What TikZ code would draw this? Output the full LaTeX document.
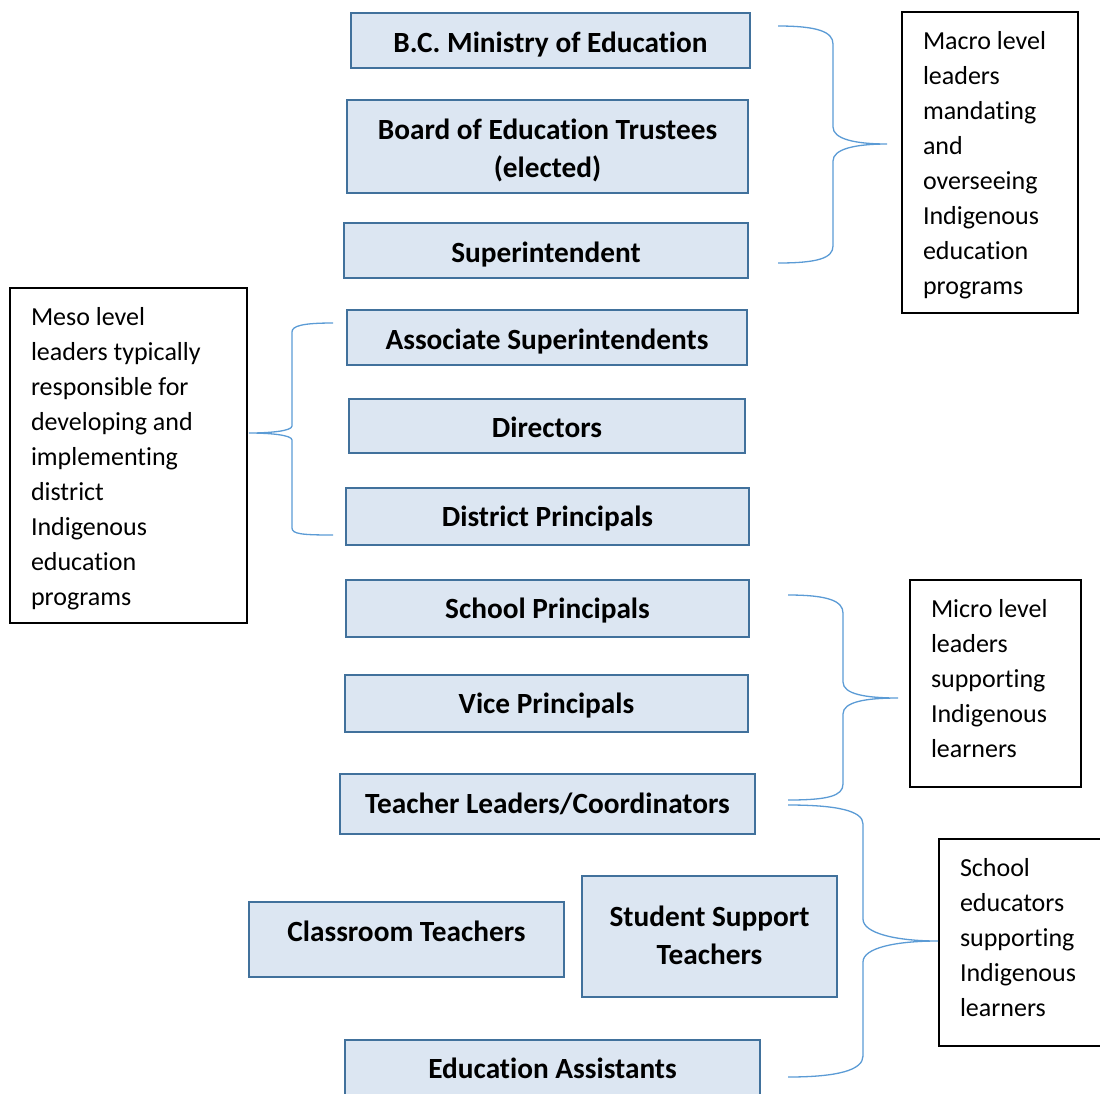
\documentclass[tikz,border=0pt]{standalone}
\usepackage{fontspec}
\setmainfont{Carlito}[Ligatures=NoCommon]
\definecolor{boxfill}{HTML}{DCE6F2}
\definecolor{boxedge}{HTML}{41719C}
\definecolor{bracecol}{HTML}{5B9BD5}
\newcommand{\notelines}[1]{\begin{tabular}[t]{@{}l@{}}#1\end{tabular}}
\begin{document}
\begin{tikzpicture}[x=1pt,y=-1pt,
  lvl/.style={draw=boxedge, fill=boxfill, line width=2.5pt, inner sep=0pt, outer sep=0pt, align=center,
    text height=23.6pt, text depth=0pt,
    font=\fontsize{29.3}{38}\selectfont\bfseries},
  notebox/.style={draw=black, line width=1.8pt, inner sep=0pt, outer sep=0pt},
  notetext/.style={inner sep=0pt, outer sep=0pt, anchor=base west,
    xshift=21pt, yshift=-37pt, font=\fontsize{26}{35}\selectfont},
  brc/.style={draw=bracecol, line width=1.3pt}]
\useasboundingbox (0,0) rectangle (1100,1093);
\clip (0,0) rectangle (1100,1093);

% level boxes
\node[lvl, minimum width=399pt, minimum height=55pt] (mini) at (550.5,40.5) {B.C. Ministry of Education};
\node[lvl, minimum width=401pt, minimum height=93pt, text height=61.6pt] (board) at (547.5,146.5) {Board of Education Trustees\\(elected)};
\node[lvl, minimum width=404pt, minimum height=55pt] (sup) at (546,250.5) {Superintendent};
\node[lvl, minimum width=400pt, minimum height=55pt] (assoc) at (547,337.5) {Associate Superintendents};
\node[lvl, minimum width=396pt, minimum height=54pt, text height=22.6pt] (dir) at (547,426) {Directors};
\node[lvl, minimum width=403pt, minimum height=57pt, text height=19.6pt] (dp) at (547.5,516.5) {District Principals};
\node[lvl, minimum width=403pt, minimum height=57pt, text height=19.6pt] (sp) at (547.5,608.5) {School Principals};
\node[lvl, minimum width=403pt, minimum height=57pt, text height=19.6pt] (vp) at (546.5,703.5) {Vice Principals};
\node[lvl, minimum width=415pt, minimum height=60pt, text height=18.6pt] (tl) at (547.5,804) {Teacher Leaders/Coordinators};
\node[lvl, minimum width=315pt, minimum height=75pt, text height=3.6pt] (ct) at (406.5,939.5) {Classroom Teachers};
\node[lvl, minimum width=255pt, minimum height=121pt, text height=55.6pt] (sst) at (709.5,936.5) {Student Support\\Teachers};
\node[lvl, minimum width=415pt, minimum height=58pt, text height=18.6pt] (ea) at (552.5,1069) {Education Assistants};

% note boxes
\node[notebox, minimum width=176pt, minimum height=301pt] (macro) at (990,162.5) {};
\node[notetext] (macrotxt) at (macro.north west)
  {\notelines{Macro level\\leaders\\mandating\\and\\overseeing\\Indigenous\\education\\programs}};
\node[notebox, minimum width=237pt, minimum height=335pt] (meso) at (128.5,455.5) {};
\node[notetext] (mesotxt) at (meso.north west)
  {\notelines{Meso level\\leaders typically\\responsible for\\developing and\\implementing\\district\\Indigenous\\education\\programs}};
\node[notebox, minimum width=171pt, minimum height=207pt] (micro) at (995.5,683.5) {};
\node[notetext] (microtxt) at (micro.north west)
  {\notelines{Micro level\\leaders\\supporting\\Indigenous\\learners}};
\node[notebox, minimum width=163pt, minimum height=207pt] (school) at (1020.5,942.5) {};
\node[notetext] (schooltxt) at (school.north west)
  {\notelines{School\\educators\\supporting\\Indigenous\\learners}};

% brace end points
\coordinate (maT) at (778,26);
\coordinate (maB) at (778,263);
\coordinate (maP) at (887,144);
\coordinate (meT) at (333,323);
\coordinate (meB) at (333,535);
\coordinate (meP) at (249,433);
\coordinate (miT) at (788,595);
\coordinate (miB) at (788,800);
\coordinate (miP) at (898,698);
\coordinate (scT) at (788,805);
\coordinate (scB) at (788,1077);
\coordinate (scP) at (938,941);

% macro brace
\draw[brc] (maT) .. controls (818,26) and (833,32) .. (833,44) -- (833,127)
  .. controls (833,139) and (855,144) .. (maP)
  .. controls (855,144) and (833,149) .. (833,161) -- (833,246)
  .. controls (833,258) and (818,263) .. (maB);
% meso brace
\draw[brc] (meT) .. controls (302,323) and (292,326) .. (292,332) -- (292,426)
  .. controls (292,431) and (270,433) .. (meP)
  .. controls (270,433) and (292,435) .. (292,440) -- (292,528)
  .. controls (292,534) and (302,535) .. (meB);
% micro brace
\draw[brc] (miT) .. controls (828,595) and (843,601) .. (843,613) -- (843,682)
  .. controls (843,694) and (865,698) .. (miP)
  .. controls (865,698) and (843,702) .. (843,714) -- (843,784)
  .. controls (843,796) and (828,800) .. (miB);
% school brace
\draw[brc] (scT) .. controls (838,805) and (863,811) .. (863,824) -- (863,919)
  .. controls (863,933) and (895,941) .. (scP)
  .. controls (895,941) and (863,948) .. (863,962) -- (863,1056)
  .. controls (863,1070) and (838,1077) .. (scB);
\end{tikzpicture}
\end{document}
